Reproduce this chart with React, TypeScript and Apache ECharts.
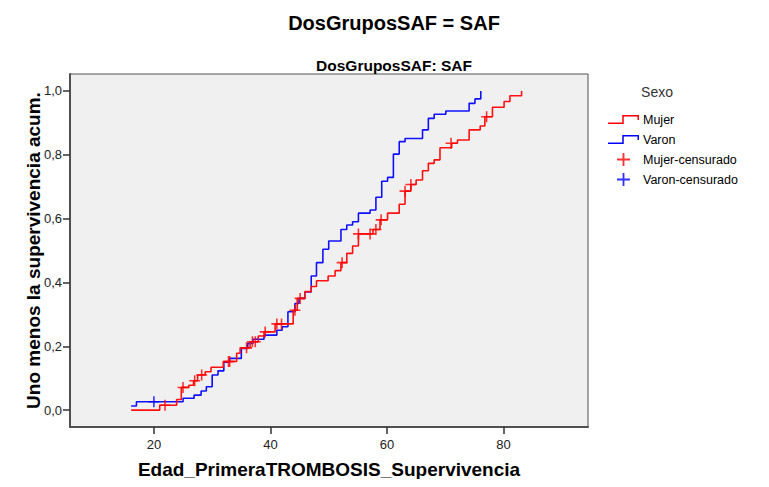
import React, { useEffect, useRef } from "react";
import * as echarts from "echarts";

// Kaplan-Meier (1 - S) step curves
const mujerTimes = [16.1, 21.0, 23.9, 24.7, 26.0, 26.8, 27.5, 28.8, 29.8, 31.9, 34.2, 34.8, 36.5, 37.9, 38.9, 40.8, 43.9, 44.6, 45.9, 47.0, 47.9, 49.9, 51.1, 52.1, 53.1, 54.1, 55.1, 57.6, 58.8, 60.1, 62.1, 63.1, 64.1, 65.0, 66.1, 67.1, 68.1, 69.1, 71.1, 72.1, 74.1, 76.0, 76.8, 78.1, 80.1, 81.1, 83.1];
const mujerValues = [0.0, 0.015, 0.033, 0.071, 0.078, 0.092, 0.11, 0.12, 0.134, 0.152, 0.178, 0.195, 0.214, 0.232, 0.245, 0.27, 0.313, 0.35, 0.371, 0.387, 0.405, 0.42, 0.437, 0.462, 0.491, 0.514, 0.552, 0.566, 0.596, 0.617, 0.645, 0.686, 0.707, 0.721, 0.75, 0.773, 0.784, 0.822, 0.836, 0.846, 0.878, 0.89, 0.919, 0.949, 0.967, 0.985, 1.0];

const varonTimes = [16.1, 17.0, 25.0, 26.9, 28.1, 29.0, 30.0, 31.0, 32.0, 33.0, 35.0, 36.1, 37.0, 38.9, 41.1, 42.0, 43.0, 44.2, 44.9, 45.9, 47.0, 47.9, 49.0, 50.0, 52.1, 53.1, 54.1, 55.1, 57.1, 58.1, 59.1, 60.1, 61.1, 62.1, 63.1, 66.1, 67.1, 68.1, 70.1, 74.1, 75.1, 76.1];
const varonValues = [0.013, 0.026, 0.037, 0.047, 0.06, 0.073, 0.11, 0.123, 0.15, 0.162, 0.193, 0.209, 0.222, 0.235, 0.25, 0.261, 0.308, 0.334, 0.35, 0.37, 0.42, 0.462, 0.504, 0.53, 0.566, 0.58, 0.59, 0.617, 0.627, 0.667, 0.717, 0.729, 0.802, 0.841, 0.851, 0.878, 0.914, 0.927, 0.937, 0.961, 0.975, 1.0];

// censored observations
const mujerCensTimes = [21.9, 25.0, 27.0, 28.2, 32.8, 33.0, 35.9, 36.9, 37.4, 39.1, 41.1, 41.9, 44.2, 45.1, 52.3, 55.1, 57.1, 58.1, 59.0, 63.1, 64.1, 71.0, 77.1];
const mujerCensValues = [0.015, 0.071, 0.092, 0.11, 0.152, 0.152, 0.195, 0.214, 0.214, 0.245, 0.27, 0.27, 0.313, 0.35, 0.462, 0.552, 0.552, 0.566, 0.596, 0.686, 0.707, 0.836, 0.919];
const varonCensTimes = [20.0];
const varonCensValues = [0.026];

const yTicks = [0, 0.2, 0.4, 0.6, 0.8, 1.0];
const xTicks = [20, 40, 60, 80];

const seriesNames = ["Mujer", "Varon", "Mujer-censurado", "Varon-censurado"];

const plusPath =
  "path://M-1,-7L1,-7L1,-1L7,-1L7,1L1,1L1,7L-1,7L-1,1L-7,1L-7,-1L-1,-1Z";
const stepPath =
  "path://M0,7.5L14.25,7.5L14.25,0L31,0L31,5L29.5,5L29.5,1.5L15.75,1.5L15.75,9L0,9Z";

const zip = (a: number[], b: number[]) => a.map((v, i) => [v, b[i]]);
const fmt = (v: number) => v.toFixed(1).replace(".", ",");
const FONT = "'Liberation Sans', Arial, sans-serif";

export default function App() {
  const ref = useRef<HTMLDivElement>(null);
  useEffect(() => {
    if (!ref.current) return;
    const chart = echarts.init(ref.current, undefined, { renderer: "svg" });
    chart.setOption({
      animation: false,
      backgroundColor: "#ffffff",
      textStyle: { fontFamily: FONT },
      title: [
        {
          text: "DosGruposSAF = SAF",
          left: 389,
          top: 8,
          textAlign: "center",
          textStyle: { fontSize: 20, fontWeight: "bold", color: "#000", fontFamily: FONT },
        },
        {
          text: "DosGruposSAF: SAF",
          left: 389,
          top: 52,
          textAlign: "center",
          textStyle: { fontSize: 15.5, fontWeight: "bold", color: "#000", fontFamily: FONT },
        },
        {
          text: "Sexo",
          left: 652,
          top: 80,
          textAlign: "center",
          textStyle: { fontSize: 14, fontWeight: "normal", color: "#333", fontFamily: FONT },
        },
      ],
      legend: {
        orient: "vertical",
        left: 603,
        top: 108,
        itemWidth: 31,
        itemHeight: 13,
        itemGap: 7,
        symbolKeepAspect: true,
        textStyle: { fontSize: 12.5, color: "#000", fontFamily: FONT, padding: [0, 0, 0, -1] },
        data: [
          { name: seriesNames[0], icon: stepPath },
          { name: seriesNames[1], icon: stepPath },
          { name: seriesNames[2], icon: plusPath },
          { name: seriesNames[3], icon: plusPath },
        ],
      },
      grid: {
        left: 70,
        right: 181,
        top: 74,
        bottom: 60,
        show: true,
        backgroundColor: "#f0f0f0",
        borderColor: "#505050",
        borderWidth: 1,
      },
      xAxis: {
        type: "value",
        min: 5.6,
        max: 94.5,
        name: "Edad_PrimeraTROMBOSIS_Supervivencia",
        nameLocation: "middle",
        nameGap: 33,
        nameMoveOverlap: false,
        nameTextStyle: { fontSize: 19, fontWeight: "bold", color: "#000", fontFamily: FONT },
        axisLine: { show: true, onZero: false, lineStyle: { color: "#505050", width: 2 } },
        axisTick: { show: true, length: 7, customValues: xTicks, lineStyle: { color: "#333", width: 1.5 } },
        axisLabel: { customValues: xTicks, margin: 11, fontSize: 13, color: "#222", fontFamily: FONT },
        splitLine: { show: false },
      },
      yAxis: {
        type: "value",
        min: -0.053,
        max: 1.053,
        name: "Uno menos la supervivencia acum.",
        nameLocation: "middle",
        nameGap: 27,
        nameMoveOverlap: false,
        nameTextStyle: { fontSize: 19, fontWeight: "bold", color: "#000", fontFamily: FONT },
        axisLine: { show: true, onZero: false, lineStyle: { color: "#505050", width: 2 } },
        axisTick: { show: true, length: 7, customValues: yTicks, lineStyle: { color: "#333", width: 1.5 } },
        axisLabel: {
          customValues: yTicks,
          margin: 8,
          fontSize: 13,
          color: "#222",
          fontFamily: FONT,
          formatter: (v: number) => fmt(v),
        },
        splitLine: { show: false },
      },
      series: [
        {
          name: seriesNames[0],
          type: "line",
          step: "end",
          showSymbol: false,
          color: "#ff0000",
          lineStyle: { color: "#ff1010", width: 1.6 },
          data: zip(mujerTimes, mujerValues),
          z: 3,
        },
        {
          name: seriesNames[1],
          type: "line",
          step: "end",
          showSymbol: false,
          color: "#0000ff",
          lineStyle: { color: "#1010ff", width: 1.6 },
          data: zip(varonTimes, varonValues),
          z: 2,
        },
        {
          name: seriesNames[2],
          type: "scatter",
          symbol: plusPath,
          symbolSize: 11,
          color: "#ff0000",
          itemStyle: { color: "#ff0000" },
          data: zip(mujerCensTimes, mujerCensValues),
          z: 4,
        },
        {
          name: seriesNames[3],
          type: "scatter",
          symbol: plusPath,
          symbolSize: 11,
          color: "#0000ff",
          itemStyle: { color: "#0000ff" },
          data: zip(varonCensTimes, varonCensValues),
          z: 4,
        },
      ],
    });
    return () => chart.dispose();
  }, []);
  return <div ref={ref} style={{ width: 769, height: 487, margin: -8 }} />;
}
